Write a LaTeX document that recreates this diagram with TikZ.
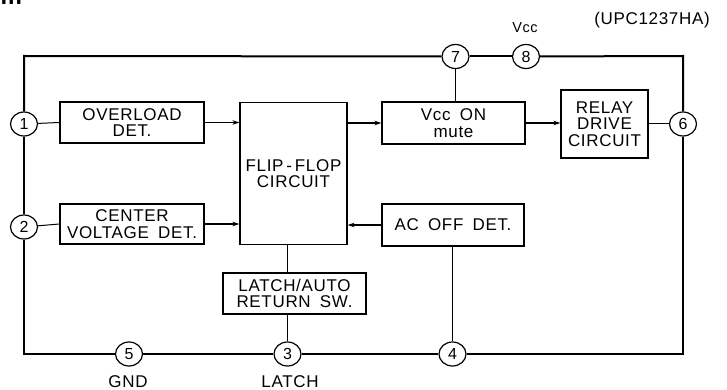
\documentclass[tikz,border=0pt]{standalone}
\usepackage{fontspec}
\setmainfont{Liberation Sans}[WordSpace=1.7,LetterSpace=4]
\usetikzlibrary{arrows.meta,shapes.geometric}
\tikzset{
  blk/.style={draw, line width=1.2pt, align=center, inner sep=0pt,
    font=\fontsize{17}{16.5}\selectfont},
  pinc/.style={draw, ellipse, line width=1.2pt, fill=white, inner sep=0pt,
    minimum width=27pt, minimum height=24pt, font=\fontsize{16}{16}\selectfont},
  frame/.style={line width=2pt},
  wire/.style={line width=1pt},
  arr/.style={line width=1.2pt, -{Stealth[length=7pt,width=4.5pt]}},
  lbl/.style={inner sep=0pt, font=\fontsize{17}{17}\selectfont}
}
\begin{document}
\begin{tikzpicture}[x=1pt,y=-1pt]
\useasboundingbox (0,0) rectangle (727,390);
% cut-off heading letter at the top-left corner
\node[anchor=base west, inner sep=0pt, font=\fontsize{24}{24}\bfseries] (hd) at (0.5,5) {m};
% corners of the outer frame
\coordinate (tl) at (24,56);
\coordinate (tr) at (683,56);
\coordinate (br) at (683,354);
\coordinate (bl) at (24,354);
% pins
\node[pinc] (c1) at (24,124) {1};
\node[pinc] (c2) at (24,227) {2};
\node[pinc] (c7) at (455.5,56.5) {7};
\node[pinc] (c8) at (526,56.5) {8};
\node[pinc] (c6) at (683,124) {6};
\node[pinc] (c5) at (129,354) {5};
\node[pinc] (c3) at (287.5,354) {3};
\node[pinc] (c4) at (452.5,354) {4};
% blocks
\node[blk, minimum width=144pt, minimum height=41pt] (ov) at (132,122.5) {OVERLOAD\\DET.};
\node[blk, minimum width=144pt, minimum height=40pt] (cv) at (132,224) {CENTER\\VOLTAGE DET.};
\node[blk, minimum width=107pt, minimum height=142pt] (ff) at (293.5,173.5) {FLIP\,-\,FLOP\\CIRCUIT};
\node[blk, minimum width=143pt, minimum height=42pt] (vo) at (453.5,123) {Vcc ON\\mute};
\node[blk, minimum width=142pt, minimum height=42pt] (ac) at (453,225) {AC OFF DET.};
\node[blk, minimum width=87pt, minimum height=68pt] (rd) at (604.5,124) {RELAY\\DRIVE\\CIRCUIT};
\node[blk, minimum width=143pt, minimum height=41pt] (ls) at (294.5,293.5) {LATCH/AUTO\\RETURN SW.};
% labels
\node[lbl, font=\fontsize{14.5}{14.5}\selectfont] (vcc) at (525,28) {Vcc};
\node[lbl] (ic) at (652,20.5) {(UPC1237HA)};
\node[lbl] (gnd) at (128,382) {GND};
\node[lbl] (lat) at (290,382) {LATCH};
% outer frame
\draw[frame] (c1) -- (tl) -- (c7);
\draw[frame] (c7) -- (c8);
\draw[frame] (c8) -- (tr) -- (c6);
\draw[frame] (c6) -- (br) -- (c4);
\draw[frame] (c4) -- (c3);
\draw[frame] (c3) -- (c5);
\draw[frame] (c5) -- (bl) -- (c2);
\draw[frame] (c2) -- (c1);
% connections
\draw[wire] (c1) -- (ov.west);
\draw[wire] (c2) -- (cv.west);
\draw[arr] (ov.east) -- (ov.east -| ff.west);
\draw[arr] (cv.east) -- (cv.east -| ff.west);
\draw[arr] (vo.west -| ff.east) -- (vo.west);
\draw[arr] (ac.west) -- (ac.west -| ff.east);
\draw[arr] (vo.east) -- (vo.east -| rd.west);
\draw[wire] (rd.east) -- (c6);
\draw[wire] (c7) -- (c7 |- vo.north);
\draw[wire] (c3 |- ff.south) -- (c3 |- ls.north);
\draw[wire] (c3 |- ls.south) -- (c3);
\draw[wire] (c4 |- ac.south) -- (c4);
\end{tikzpicture}
\end{document}
